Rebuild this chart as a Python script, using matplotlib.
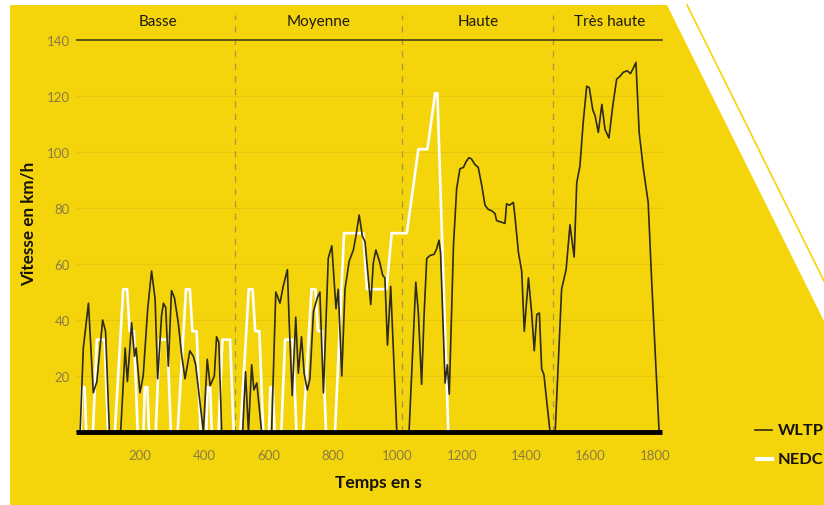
import numpy as np
import matplotlib
matplotlib.use("Agg")
import matplotlib.pyplot as plt
from matplotlib.patches import Polygon
from matplotlib.lines import Line2D

# WLTP cycle
wltp_t = [0, 14, 24, 40, 55, 66, 84, 93, 105, 140, 154, 161, 174, 183, 188, 200, 210,
          224, 236, 247, 255, 267, 273, 280, 288, 298, 307, 319, 330, 340, 355, 366,
          373, 397, 409, 418, 431, 438, 445, 454, 519, 528, 537, 547, 554, 563, 578,
          609, 622, 635, 645, 658, 664, 673, 684, 692, 702, 710, 720, 728, 739, 751,
          759, 770, 785, 796, 809, 816, 827, 837, 850, 863, 871, 881, 891, 899, 910,
          917, 925, 933, 944, 954, 961, 969, 979, 998, 1036, 1057, 1065, 1075, 1083,
          1091, 1101, 1114, 1122, 1129, 1134, 1148, 1155, 1161, 1174, 1184, 1194,
          1205, 1213, 1222, 1230, 1241, 1251, 1262, 1272, 1282, 1293, 1303, 1308,
          1334, 1339, 1348, 1360, 1365, 1376, 1386, 1394, 1407, 1417, 1425, 1433,
          1441, 1448, 1455, 1474, 1490, 1510, 1524, 1536, 1549, 1557, 1567, 1577,
          1588, 1596, 1607, 1614, 1624, 1635, 1645, 1657, 1669, 1681, 1691, 1702,
          1714, 1724, 1733, 1741, 1751, 1764, 1779, 1790, 1813]
wltp_v = [0, 0, 30, 46, 14, 18, 40, 36, 0, 0, 30, 18, 39, 27, 30, 14, 20,
          44, 57.5, 47.5, 19, 41.5, 46, 44.5, 23.5, 50.5, 48, 39, 27, 19, 29, 27,
          24, 0, 26, 16.5, 20, 34, 32, 0, 0, 21.5, 0, 24, 15, 17.5, 0,
          0, 50, 46, 52, 58, 38, 13, 41, 21, 34, 21, 15, 19, 43, 48,
          50, 14, 62, 66.5, 44, 51, 20, 51, 61, 65, 70, 77.5, 70, 68, 54.5,
          45.5, 60.5, 65, 61, 56, 55, 31, 52, 0, 0, 53.5, 42.5, 17, 42.5,
          62, 63, 63.5, 65.5, 68.5, 64, 17.5, 24, 13.5, 66.5, 87, 94,
          94.5, 96.5, 98, 97.5, 95.5, 94.5, 88, 81, 79.5, 79, 78, 75.5,
          74.5, 81.5, 81, 82, 77, 64, 57.5, 36, 55, 42.5, 29, 42,
          42.5, 22.5, 20.5, 0, 0, 51, 58, 74, 62.5, 89, 95, 110.5,
          123.5, 123, 115, 113, 107, 117, 108, 105, 116.5, 126, 127, 128.5,
          129, 128, 130, 132, 107, 94, 82, 53.5, 0]

# NEDC cycle
nedc_t = [0, 16, 20, 28, 33, 54, 66, 90, 101, 122, 148, 160, 168, 181, 193,
          211, 215, 223, 228, 249, 261, 285, 296, 317, 343, 355, 363, 376, 388,
          406, 410, 418, 423, 444, 456, 480, 491, 512, 538, 550, 558, 571, 583,
          601, 605, 613, 618, 639, 651, 675, 686, 707, 733, 745, 753, 766, 778,
          806, 834, 894, 905, 966, 982, 1029, 1065, 1093, 1117, 1124, 1158, 1180]
nedc_v = [0, 0, 16, 16, 0, 0, 33, 33, 0, 0, 51, 51, 36, 36, 0,
          0, 16, 16, 0, 0, 33, 33, 0, 0, 51, 51, 36, 36, 0,
          0, 16, 16, 0, 0, 33, 33, 0, 0, 51, 51, 36, 36, 0,
          0, 16, 16, 0, 0, 33, 33, 0, 0, 51, 51, 36, 36, 0,
          0, 71, 71, 51, 51, 71, 71, 101, 101, 121, 121, 0, 0]

phase_names = ["Basse", "Moyenne", "Haute", "Très haute"]
phase_bounds = [495, 1015, 1483]
phase_label_x = [255, 755, 1250, 1660]

x_ticks = [200, 400, 600, 800, 1000, 1200, 1400, 1600, 1800]
y_ticks = [20, 40, 60, 80, 100, 120, 140]

plt.rcParams['font.family'] = ['Lato', 'DejaVu Sans']

yellow = '#f4d50c'
dark = '#2e2a1c'
W, H = 824, 506

fig = plt.figure(figsize=(W / 100, H / 100), dpi=100)
fig.patch.set_facecolor('white')

# yellow background with the cut corner
def px(x, y):
    return (x / W, 1 - y / H)

bg = Polygon([px(10, 6), px(667, 6), px(824, 322), px(824, 506), px(10, 506)],
             closed=True, transform=fig.transFigure, facecolor=yellow,
             edgecolor='none', zorder=-10)
fig.patches.append(bg)
fig.lines.append(Line2D([687 / W, 824 / W], [1 - 6 / H, 1 - 282 / H],
                        transform=fig.transFigure, color=yellow, lw=1.2, zorder=-10))

ax = fig.add_axes([75.6 / W, 73 / H, 589 / W, 420 / H])
ax.set_facecolor('none')
ax.set_zorder(5)
ax.set_xlim(0, 1830)
ax.set_ylim(0, 150)
for s in ax.spines.values():
    s.set_visible(False)

# faint grid
for y in y_ticks[:-1]:
    ax.plot([0, 1822], [y, y], color='#e6c70c', lw=0.8, zorder=1)
ax.plot([0, 1822], [140, 140], color='#4a3f18', lw=1.2, zorder=2)

for b in phase_bounds:
    ax.plot([b, b], [0, 149], color='#a89448', lw=0.9, ls=(0, (5, 5)), zorder=1)
for name, xl in zip(phase_names, phase_label_x):
    ax.text(xl, 146.8, name, ha='center', va='center', fontsize=11, color='#1e1a10')

ax.plot(nedc_t, nedc_v, color='white', lw=1.9, zorder=3)
ax.plot(wltp_t, wltp_v, color=dark, lw=1.2, zorder=4)
ax.plot([0, 1822], [0, 0], color='black', lw=3.5, zorder=5, solid_capstyle='butt', clip_on=False)

ax.set_xticks(x_ticks)
ax.set_yticks(y_ticks)
ax.tick_params(axis='both', length=0, labelsize=9.5, labelcolor='#8a7c45')
ax.tick_params(axis='x', pad=12)
ax.tick_params(axis='y', pad=4)

fig.text(378 / W, 1 - 483 / H, 'Temps en s', ha='center', va='center',
         fontsize=12.5, fontweight='bold', color='#15130c')
fig.text(29 / W, 1 - 224 / H, 'Vitesse en km/h', rotation=90, ha='center', va='center',
         fontsize=12.3, fontweight='bold', color='#15130c')

# legend
fig.lines.append(Line2D([755 / W, 772 / W], [1 - 431 / H, 1 - 431 / H],
                        transform=fig.transFigure, color=dark, lw=1.2))
fig.lines.append(Line2D([757 / W, 772 / W], [1 - 460 / H, 1 - 460 / H],
                        transform=fig.transFigure, color='white', lw=3))
fig.text(778 / W, 1 - 431 / H, 'WLTP', ha='left', va='center', fontsize=11.8,
         fontweight='bold', color='#15130c')
fig.text(778 / W, 1 - 460 / H, 'NEDC', ha='left', va='center', fontsize=11.8,
         fontweight='bold', color='#15130c')

fig.savefig('out.png', dpi=100, facecolor='white')
